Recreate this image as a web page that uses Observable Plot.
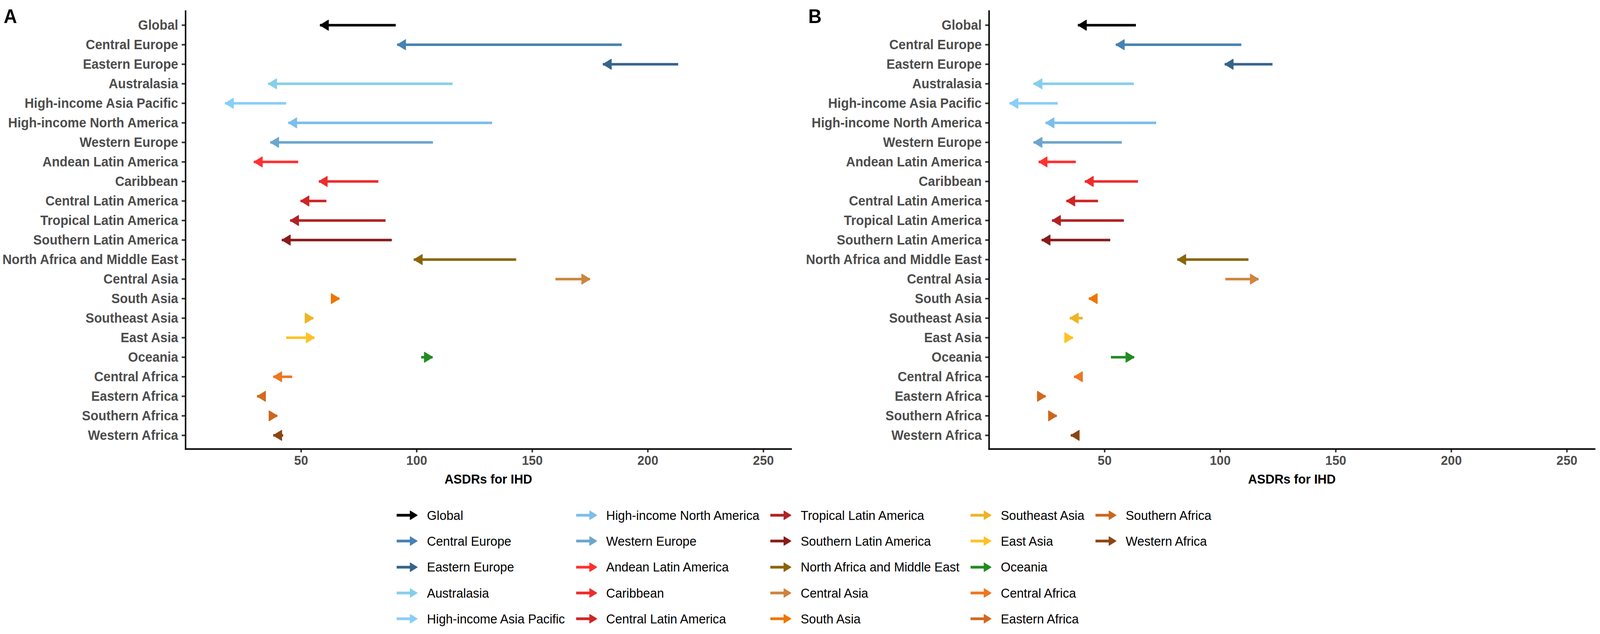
<!DOCTYPE html>
<html>
<head>
<meta charset="utf-8">
<script src="https://cdn.jsdelivr.net/npm/d3@7"></script>
<script src="https://cdn.jsdelivr.net/npm/@observablehq/plot@0.6"></script>
<style>
  html, body { margin: 0; padding: 0; background: #fff; overflow: hidden; }
  body { font-family: "Liberation Sans", Arial, sans-serif; }
  #page { position: relative; width: 4341px; height: 1623px; overflow: hidden; background: #fff; transform-origin: 0 0; }
  .panel { position: absolute; top: 0; }
  .panel svg { max-width: none !important; }
  .tag { position: absolute; z-index: 5; font-weight: bold; font-size: 50px; color: #000; line-height: 1; }
  #legend {
    position: absolute; left: 11px; width: 4341px; top: 1286px;
    display: flex; justify-content: center;
  }
  #legend .grid {
    display: grid; grid-auto-flow: column; grid-template-rows: repeat(5, 66.3px);
    column-gap: 30px; align-items: center;
  }
  #legend .item { display: flex; align-items: center; font-size: 34px; color: #000; white-space: nowrap; }
  #legend .item svg { margin-right: 24px; flex: none; }
</style>
</head>
<body>
<div id="page">
  <div class="panel" id="panelA" style="left:0px;"></div>
  <div class="panel" id="panelB" style="left:2180px;"></div>
  <div class="tag" style="left:10px; top:17px;">A</div>
  <div class="tag" style="left:2193px; top:17px;">B</div>
  <div id="legend"><div class="grid"></div></div>
</div>
<script>
// ---- data ----
const regions = [
  "Global", "Central Europe", "Eastern Europe", "Australasia", "High-income Asia Pacific",
  "High-income North America", "Western Europe", "Andean Latin America", "Caribbean",
  "Central Latin America", "Tropical Latin America", "Southern Latin America",
  "North Africa and Middle East", "Central Asia", "South Asia", "Southeast Asia", "East Asia",
  "Oceania", "Central Africa", "Eastern Africa", "Southern Africa", "Western Africa"
];
const regionColors = [
  "#000000", "#4682B4", "#36648B", "#87CEEB", "#87CEFA",
  "#7CBDEC", "#6CA6CD", "#FF3030", "#EE2C2C",
  "#CD2626", "#B22222", "#8B1A1A",
  "#8B6508", "#CD853F", "#EE7600", "#EEB422", "#FFC125",
  "#228B22", "#EE7621", "#D2691E", "#CD661D", "#8B4513"
];
// Panel A: arrow start and end values
const startA = [91.0, 188.8, 213.2, 115.6, 43.6, 132.7, 107.1, 48.8, 83.5, 61.0, 86.6, 89.3, 143.1, 160.1, 65.0, 53.5, 43.6, 102.0, 46.2, 32.6, 38.2, 42.3];
const endA   = [58.2,  91.6, 180.6,  35.8, 17.1,  44.5,  36.7, 29.6, 57.7, 49.8, 45.3, 41.7,  98.8, 175.0, 66.6, 55.3, 55.8, 106.9, 38.0, 31.0, 39.7, 38.0];
// Panel B: arrow start and end values
const startB = [63.6, 109.2, 122.7, 62.7, 29.8, 72.4, 57.5, 37.6, 64.5, 47.2, 58.4, 52.5, 112.3, 102.3, 45.8, 40.6, 34.0, 52.8, 39.8, 22.8, 27.0, 37.8];
const endB   = [38.5,  54.9, 102.0, 19.3,  8.9, 24.5, 19.3, 21.5, 41.5, 33.5, 27.3, 22.8,  81.5, 116.6, 43.2, 35.0, 36.3, 62.8, 36.8, 24.5, 29.3, 35.4];
const xTicks = [50, 100, 150, 200, 250];
const xLabel = "ASDRs for IHD";

// ---- arrowhead symbol (tip at origin, pointing +x) ----
const headSymbol = {
  draw(context, size) {
    const r = Math.sqrt(size / Math.PI);
    const L = r * 1.73;
    context.moveTo(0, 0);
    context.lineTo(-L, -r);
    context.lineTo(-L, r);
    context.closePath();
  }
};

function panel(starts, ends, width, marginRight) {
  const data = regions.map((region, i) => ({region, start: starts[i], end: ends[i]}));
  return Plot.plot({
    width,
    height: 1244,
    marginLeft: 503,
    marginRight,
    marginTop: 28,
    marginBottom: 95,
    style: {fontFamily: '"Liberation Sans", Arial, sans-serif', background: "white"},
    x: {domain: [0, 262]},
    y: {type: "point", domain: regions, padding: 0.6},
    color: {domain: regions, range: regionColors},
    marks: [
      Plot.ruleY(data, {y: "region", x1: "start", x2: "end", stroke: "region", strokeWidth: 6.5}),
      Plot.dot(data, {
        x: "end", y: "region", symbol: headSymbol, r: 13,
        fill: "region", stroke: "region", strokeWidth: 2, strokeLinejoin: "round",
        rotate: d => (d.end >= d.start ? 0 : 180)
      }),
      Plot.axisY({
        tickSize: 10, tickPadding: 10, fontSize: 35, fontWeight: "bold",
        fill: "#4D4D4D", stroke: "#333333", strokeWidth: 4, label: null
      }),
      Plot.axisX({
        ticks: xTicks, tickSize: 9, tickPadding: 7, fontSize: 34, fontWeight: "bold",
        fill: "#4D4D4D", stroke: "#333333", strokeWidth: 4, label: null
      }),
      Plot.axisX({
        ticks: [], tickSize: 0, label: xLabel, labelAnchor: "center", labelArrow: "none",
        labelOffset: 88, fontSize: 34, fontWeight: "bold", fill: "#000"
      }),
      Plot.frame({anchor: "left", stroke: "#000", strokeWidth: 4}),
      Plot.frame({anchor: "bottom", stroke: "#000", strokeWidth: 4})
    ]
  });
}

document.getElementById("panelA").appendChild(panel(startA, endA, 2170, 24));
document.getElementById("panelB").appendChild(panel(startB, endB, 2161, 15));

// ---- legend ----
const grid = document.querySelector("#legend .grid");
regions.forEach((name, i) => {
  const item = document.createElement("div");
  item.className = "item";
  const c = regionColors[i];
  item.innerHTML =
    `<svg width="58" height="30" viewBox="0 0 58 30">` +
    `<line x1="0" y1="15" x2="44" y2="15" stroke="${c}" stroke-width="7"/>` +
    `<path d="M56,15 L37,4 L37,26 Z" fill="${c}" stroke="${c}" stroke-width="2" stroke-linejoin="round"/>` +
    `</svg><span>${name}</span>`;
  grid.appendChild(item);
});

// fit the 4341-wide layout into the actual viewport (which may be narrower)
function fit() {
  const kx = Math.min(1, window.innerWidth / 4341);
  const ky = Math.min(1, window.innerHeight / 1623);
  document.getElementById("page").style.transform = `scale(${kx}, ${ky})`;
}
fit();
window.addEventListener("resize", fit);
</script>
</body>
</html>
